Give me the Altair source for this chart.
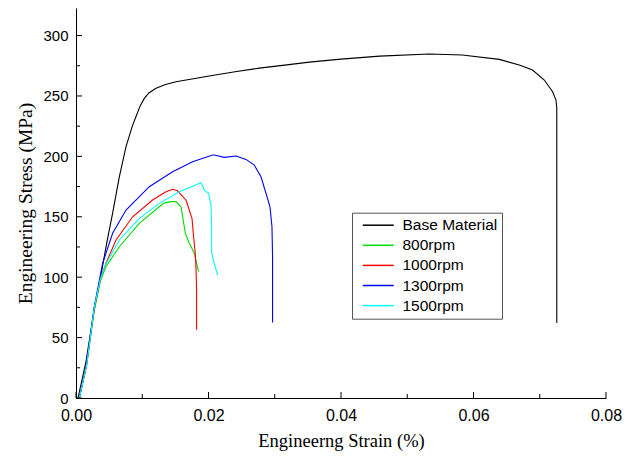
import altair as alt
import pandas as pd

# ---- data ----
series_names = ["Base Material", "800rpm", "1000rpm", "1300rpm", "1500rpm"]
series_colors = ["#000000", "#00dd00", "#ff0000", "#0000ff", "#00ffff"]

base_x = [0.0003, 0.0015, 0.00276, 0.0040, 0.0047, 0.00553, 0.00654, 0.00755, 0.0085, 0.00906,
          0.0097, 0.01031, 0.0110, 0.01208, 0.0135, 0.01509, 0.0175, 0.02012, 0.0240, 0.02767,
          0.0315, 0.03522, 0.0400, 0.04584, 0.05333, 0.0583, 0.06389, 0.06691, 0.06892, 0.07068,
          0.07194, 0.07245, 0.07257, 0.07257]
base_y = [0, 30, 73, 109, 130, 153, 183, 208, 225, 233,
          242, 248, 252.5, 256.3, 259.5, 261.8, 264, 266.5, 270, 273,
          275.5, 278, 280.5, 283, 284.7, 283.9, 280.3, 275.6, 271.5, 263.2,
          253.5, 246.6, 240, 62]

r800_x = [0.0005, 0.0016, 0.00276, 0.0037, 0.00453, 0.00654, 0.00955, 0.01257, 0.01333, 0.01434,
          0.01509, 0.01585, 0.0161, 0.0165, 0.0170, 0.01786, 0.0185]
r800_y = [0, 27, 73, 97, 108.7, 125.2, 144.6, 158.3, 161.5, 162.5,
          162.5, 158.3, 150, 136.3, 129.4, 119.8, 104.5]

r1000_x = [0.0005, 0.0016, 0.00276, 0.0037, 0.00453, 0.00604, 0.00855, 0.01156, 0.01350, 0.01458,
           0.01530, 0.0166, 0.01751, 0.01775, 0.01800, 0.01811, 0.0182, 0.0182]
r1000_y = [0, 27, 75, 99, 111.5, 130.8, 150, 163.9, 170.5, 172.7,
           171.5, 163.9, 148.7, 133.5, 119.8, 108.7, 89.4, 56.5]

r1300_x = [0.0005, 0.00151, 0.00276, 0.00402, 0.00553, 0.00755, 0.01106, 0.01458, 0.0176, 0.02062,
           0.02088, 0.02239, 0.02415, 0.02566, 0.02691, 0.02792, 0.02868, 0.02928, 0.02958, 0.02967,
           0.02967]
r1300_y = [0, 25.9, 75.6, 111.5, 136.3, 155.6, 174.9, 187.3, 195.6, 201.1,
           201.1, 199.2, 200.3, 197.5, 192.8, 183.1, 169.4, 158.3, 141.8, 116.9,
           62.5]

r1500_x = [0.0005, 0.0016, 0.00276, 0.0037, 0.00453, 0.00654, 0.00955, 0.01257, 0.01559, 0.01887,
           0.01937, 0.02002, 0.02038, 0.02047, 0.02047, 0.02072, 0.02137]
r1500_y = [0, 27, 75, 99, 111, 130.8, 148.7, 161.1, 170.7, 178.2,
           172.1, 169.4, 159.7, 141.8, 121.1, 114.2, 101.8]

x_major = [0.0, 0.02, 0.04, 0.06, 0.08]
x_minor = [0.01, 0.03, 0.05, 0.07]
y_major = [0, 50, 100, 150, 200, 250, 300]
y_minor = [25, 75, 125, 175, 225, 275]

# ---- build tables ----
rows = []
for name, xs, ys in [("Base Material", base_x, base_y), ("800rpm", r800_x, r800_y),
                     ("1000rpm", r1000_x, r1000_y), ("1300rpm", r1300_x, r1300_y),
                     ("1500rpm", r1500_x, r1500_y)]:
    for i, (xv, yv) in enumerate(zip(xs, ys)):
        rows.append({"series": name, "x": xv, "y": yv, "i": i})
df = pd.DataFrame(rows)

W, H = 530, 390
XMAX, YMAX = 0.08, 322.8
xscale = alt.Scale(domain=[0, XMAX], nice=False, zero=False)
yscale = alt.Scale(domain=[0, YMAX], nice=False, zero=False)
# tick lengths (pixels) expressed in data units so they go through the scales
px_x = XMAX / W
px_y = YMAX / H
MAJ, MIN = 6, 4

xaxis = alt.Axis(values=x_major, format=".2f", ticks=False, grid=False,
                 labelFont="Liberation Sans", labelFontSize=16, labelColor="black",
                 labelPadding=9, labelFlush=False,
                 title="Engineerng Strain (%)", titleFont="Liberation Serif",
                 titleFontSize=18.5, titleFontWeight="normal", titleColor="black",
                 titlePadding=8, domainColor="black", domainWidth=1)
yaxis = alt.Axis(values=y_major, ticks=False, grid=False,
                 labelFont="Liberation Sans", labelFontSize=15, labelColor="black",
                 labelPadding=8, labelFlush=False,
                 title="Engineering Stress (MPa)", titleFont="Liberation Serif",
                 titleFontSize=19.5, titleFontWeight="normal", titleColor="black",
                 titlePadding=7, domainColor="black", domainWidth=1)

lines = alt.Chart(df).mark_line(strokeWidth=1.1).encode(
    x=alt.X("x:Q", scale=xscale, axis=xaxis),
    y=alt.Y("y:Q", scale=yscale, axis=yaxis),
    color=alt.Color("series:N", sort=series_names,
                    scale=alt.Scale(domain=series_names, range=series_colors),
                    legend=alt.Legend(orient="none", legendX=276, legendY=204.7, title=None,
                                      symbolType="M-2,0H2", symbolSize=240,
                                      symbolStrokeWidth=1.5, symbolFillColor="transparent",
                                      labelFont="Liberation Sans", labelFontSize=15.5,
                                      labelColor="black", labelOffset=15.75,
                                      rowPadding=3.1, padding=4, symbolOffset=13.75,
                                      strokeColor="#555555", fillColor="white")),
    detail="series:N",
    order="i:Q",
)

tick_style = dict(color="black", strokeWidth=1)
xt_major = alt.Chart(pd.DataFrame({"x": x_major})).mark_rule(**tick_style).encode(
    x=alt.X("x:Q", scale=xscale, axis=xaxis),
    y=alt.Y(datum=0, scale=yscale, axis=yaxis), y2=alt.Y2(datum=MAJ * px_y))
xt_minor = alt.Chart(pd.DataFrame({"x": x_minor})).mark_rule(**tick_style).encode(
    x=alt.X("x:Q", scale=xscale, axis=xaxis),
    y=alt.Y(datum=0, scale=yscale, axis=yaxis), y2=alt.Y2(datum=MIN * px_y))
yt_major = alt.Chart(pd.DataFrame({"y": y_major})).mark_rule(**tick_style).encode(
    y=alt.Y("y:Q", scale=yscale, axis=yaxis),
    x=alt.X(datum=0, scale=xscale, axis=xaxis), x2=alt.X2(datum=MAJ * px_x))
yt_minor = alt.Chart(pd.DataFrame({"y": y_minor})).mark_rule(**tick_style).encode(
    y=alt.Y("y:Q", scale=yscale, axis=yaxis),
    x=alt.X(datum=0, scale=xscale, axis=xaxis), x2=alt.X2(datum=MIN * px_x))

chart = alt.layer(lines, xt_major, xt_minor, yt_major, yt_minor).properties(
    width=W, height=H,
    padding={"left": 7, "top": 0, "right": 2, "bottom": 5},
    background="white",
).configure_view(stroke=None)

chart.save("out.html", embed_options={"renderer": "svg", "actions": False})
